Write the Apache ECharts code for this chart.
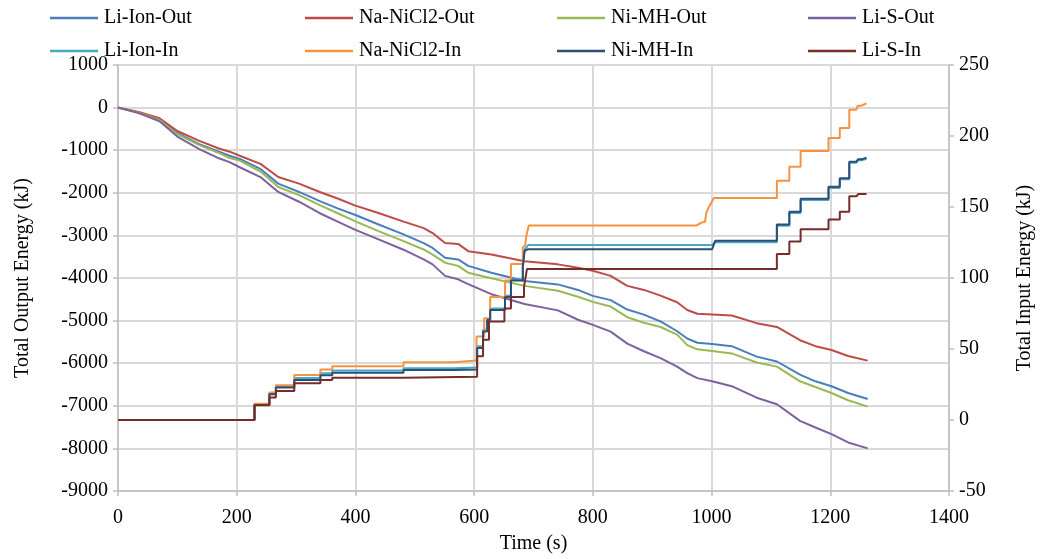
<!DOCTYPE html>
<html><head><meta charset="utf-8">
<script src="https://cdn.jsdelivr.net/npm/echarts@6/dist/echarts.min.js"></script>
<style>html,body{margin:0;padding:0;background:#fff}#c{width:1043px;height:559px}</style>
</head><body><div id="c"></div>
<script>
// Output energy series (left axis, kJ)
const outTimes = [0,35,70,100,137,170,188,205,240,270,305,340,370,400,440,480,515,530,551,573,590,629,685,741,775,800,830,858,886,914,942,959,976,1001,1034,1076,1110,1149,1175,1202,1230,1263];
const liIonOut = [0,-115,-280,-600,-860,-1035,-1130,-1205,-1440,-1785,-1980,-2195,-2365,-2520,-2750,-2970,-3180,-3295,-3525,-3565,-3715,-3875,-4070,-4150,-4280,-4420,-4520,-4740,-4860,-5020,-5250,-5420,-5520,-5550,-5600,-5845,-5960,-6270,-6425,-6540,-6700,-6840];
const naNiCl2Out = [0,-100,-250,-550,-780,-960,-1035,-1130,-1320,-1630,-1785,-1980,-2135,-2300,-2480,-2670,-2830,-2945,-3180,-3200,-3370,-3450,-3605,-3680,-3760,-3830,-3950,-4185,-4280,-4415,-4570,-4750,-4840,-4855,-4880,-5060,-5150,-5460,-5600,-5690,-5830,-5940];
const niMHOut = [0,-120,-290,-625,-880,-1065,-1185,-1245,-1500,-1865,-2055,-2290,-2480,-2670,-2905,-3130,-3330,-3450,-3640,-3715,-3875,-4005,-4185,-4300,-4440,-4560,-4670,-4920,-5050,-5150,-5330,-5575,-5675,-5715,-5770,-5985,-6080,-6425,-6560,-6700,-6870,-7020];
const liSOut = [0,-130,-320,-680,-975,-1190,-1280,-1400,-1630,-1980,-2210,-2480,-2675,-2870,-3100,-3330,-3565,-3680,-3950,-4030,-4145,-4380,-4610,-4760,-4980,-5100,-5260,-5540,-5720,-5880,-6080,-6235,-6350,-6425,-6540,-6810,-6965,-7355,-7510,-7665,-7860,-8000];

// Input energy series (right axis, kJ) as [time, value] pairs
const liIonIn = [[0,0],[230,0],[230,11.2],[255,11.2],[255,19],[266,19],[266,23.8],[297,23.8],[297,29.5],[341,29.5],[341,33],[361,33],[361,34.8],[481,34.8],[481,36.5],[565,36.5],[565,37],[605,37],[605,52],[615,52],[615,63.5],[622,63.5],[622,71],[627,71],[627,78.5],[652,78.5],[652,87.5],[662,87.5],[662,99],[682,99],[682,108.5],[685,120],[691,123.2],[1001,123.2],[1006,125.2],[1110,125.2],[1110,136.8],[1131,136.8],[1131,145.8],[1150,145.8],[1150,155],[1197,155],[1197,163.4],[1216,163.4],[1216,169.6],[1232,169.6],[1232,181.2],[1244,181.2],[1247,183],[1254,183],[1261,184]];
const naNiCl2In = [[0,0],[230,0],[230,11.5],[255,11.5],[255,19.4],[266,19.4],[266,24.5],[297,24.5],[297,31.7],[341,31.7],[341,35.6],[361,35.6],[361,37.9],[481,37.9],[481,40.7],[565,40.7],[565,41.9],[604,41.9],[604,58.8],[617,58.8],[617,71.6],[627,71.6],[627,86.7],[652,86.7],[652,98.3],[662,98.3],[662,109.9],[682,109.9],[682,121.5],[686,123],[688,130],[692,137],[975,137],[983,139],[989,139.6],[991,145.9],[996,150.5],[1004,156.3],[1110,156.3],[1110,168.4],[1131,168.4],[1131,178.4],[1150,178.4],[1150,189.5],[1197,189.5],[1197,198.6],[1216,198.6],[1216,205.6],[1232,205.6],[1232,218.5],[1244,218.5],[1246,221.3],[1252,221.3],[1254,222.5],[1261,223]];
const niMHIn = [[0,0],[230,0],[230,10.6],[255,10.6],[255,18.2],[266,18.2],[266,22.8],[297,22.8],[297,28.2],[341,28.2],[341,31.5],[361,31.5],[361,33.3],[481,33.3],[481,35.2],[565,35.2],[565,35.6],[605,35.6],[605,50.7],[615,50.7],[615,62.3],[622,62.3],[622,70.5],[627,70.5],[627,77.4],[652,77.4],[652,86.7],[662,86.7],[662,98.3],[682,98.3],[682,107.6],[685,119.2],[691,120.3],[1001,120.3],[1006,126.2],[1110,126.2],[1110,137.7],[1131,137.7],[1131,146.6],[1150,146.6],[1150,155.8],[1197,155.8],[1197,164.2],[1216,164.2],[1216,170.3],[1232,170.3],[1232,181.9],[1244,181.9],[1247,183.7],[1254,183.7],[1261,184.7]];
const liSIn = [[0,0],[230,0],[230,10.3],[255,10.3],[255,15.9],[266,15.9],[266,20.5],[297,20.5],[297,25.9],[341,25.9],[341,28.2],[361,28.2],[361,29.8],[481,29.8],[481,30.5],[605,30.5],[605,44.9],[615,44.9],[615,56.5],[625,56.5],[625,69.3],[651,69.3],[651,78.6],[662,78.6],[662,86.7],[684,86.7],[684,93.7],[687,93.7],[689,106.4],[1110,106.4],[1110,116.9],[1131,116.9],[1131,125.7],[1150,125.7],[1150,134.3],[1197,134.3],[1197,141.2],[1216,141.2],[1216,146.6],[1232,146.6],[1232,157.5],[1244,157.5],[1247,159.1],[1261,159.1]];

const leftTicks = {min:-9000, max:1000, interval:1000};
const rightTicks = {min:-50, max:250, interval:50};
const xTicks = {min:0, max:1400, interval:200};

const FONT = "'Liberation Serif', 'Times New Roman', serif";
const zip = (t, v) => t.map((x, i) => [x, v[i]]);

const defs = [
  {name:'Li-Ion-Out', color:'#4a7ebb', data:zip(outTimes, liIonOut), y:0},
  {name:'Na-NiCl2-Out', color:'#be4b48', data:zip(outTimes, naNiCl2Out), y:0},
  {name:'Ni-MH-Out', color:'#98b954', data:zip(outTimes, niMHOut), y:0},
  {name:'Li-S-Out', color:'#7d60a0', data:zip(outTimes, liSOut), y:0},
  {name:'Li-Ion-In', color:'#46aac5', data:liIonIn, y:1},
  {name:'Na-NiCl2-In', color:'#f69240', data:naNiCl2In, y:1},
  {name:'Ni-MH-In', color:'#2c4d75', data:niMHIn, y:1},
  {name:'Li-S-In', color:'#772c2a', data:liSIn, y:1}
];
const legendLeft = [50, 305, 557, 808];
const legendTop = [8, 41];

const legends = defs.map((d, i) => ({
  data:[d.name], left:legendLeft[i % 4], top:legendTop[Math.floor(i / 4)],
  icon:'rect', itemWidth:48, itemHeight:2.5, padding:0,
  textStyle:{fontFamily:FONT, fontSize:20, color:'#000', padding:[0,0,0,1]}
}));

const fmt = v => String(v);
const axisLbl = {fontFamily:FONT, fontSize:20, color:'#000', formatter:fmt};
const grayLine = {lineStyle:{color:'#bfbfbf', width:1.5}};

const chart = echarts.init(document.getElementById('c'), null, {renderer:'canvas'});
chart.setOption({
  animation:false,
  backgroundColor:'#fff',
  legend: legends,
  grid:{left:118, right:90, top:65, bottom:63, containLabel:false},
  xAxis:{type:'value', min:xTicks.min, max:xTicks.max, interval:xTicks.interval,
    name:'Time (s)', nameLocation:'middle', nameGap:43,
    nameTextStyle:{fontFamily:FONT, fontSize:20, color:'#000'},
    axisLine:{show:true, onZero:false, ...grayLine}, axisTick:{show:true, length:5, ...grayLine},
    axisLabel:{...axisLbl, margin:17},
    splitLine:{show:true, lineStyle:{color:'#d9d9d9', width:2}}},
  yAxis:[
    {type:'value', min:leftTicks.min, max:leftTicks.max, interval:leftTicks.interval,
     name:'Total Output Energy (kJ)', nameLocation:'middle', nameGap:85, nameRotate:90,
     nameTextStyle:{fontFamily:FONT, fontSize:20, color:'#000'},
     axisLine:{show:true, onZero:false, ...grayLine}, axisTick:{show:true, length:5, ...grayLine},
     axisLabel:{...axisLbl, margin:10},
     splitLine:{show:true, lineStyle:{color:'#d9d9d9', width:2}}},
    {type:'value', min:rightTicks.min, max:rightTicks.max, interval:rightTicks.interval,
     position:'right',
     name:'Total Input Energy (kJ)', nameLocation:'middle', nameGap:66, nameRotate:90,
     nameTextStyle:{fontFamily:FONT, fontSize:20, color:'#000'},
     axisLine:{show:true, onZero:false, ...grayLine}, axisTick:{show:true, length:5, ...grayLine},
     axisLabel:{...axisLbl, margin:10},
     splitLine:{show:false}}
  ],
  series: defs.map(d => ({
    name:d.name, type:'line', yAxisIndex:d.y, data:d.data, symbol:'none',
    lineStyle:{color:d.color, width:2}, itemStyle:{color:d.color},
    emphasis:{disabled:true}
  }))
});
</script></body></html>
